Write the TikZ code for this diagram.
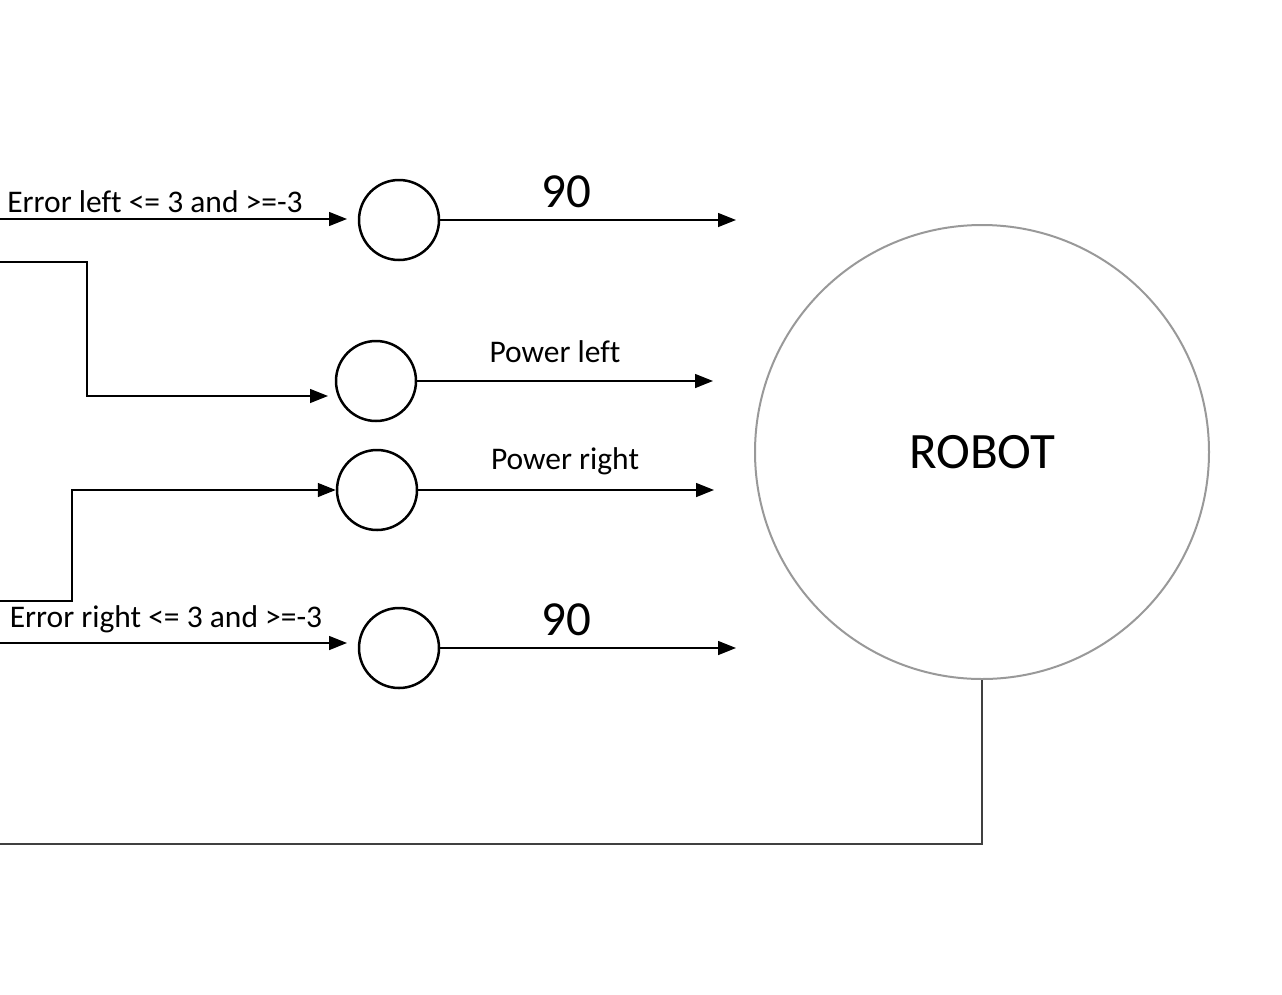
\documentclass[tikz,border=0pt]{standalone}
\usepackage{fontspec}
\setmainfont{Carlito}[Ligatures=CommonOff]
\usetikzlibrary{arrows.meta}
\begin{document}
\begin{tikzpicture}[x=1pt,y=-1pt,
  sumnode/.style={circle,draw=black,line width=2.5pt,minimum size=80pt,inner sep=0pt},
  robotnode/.style={circle,draw=black!40,line width=2pt,minimum size=454pt,inner sep=0pt,font=\fontsize{51}{60}\selectfont},
  wire/.style={draw=black,line width=1.4pt},
  arr/.style={wire,-{Triangle[length=18pt,width=14pt]}},
  lbl/.style={font=\fontsize{31.5}{36}\selectfont,inner sep=0pt},
  biglbl/.style={font=\fontsize{49}{58}\selectfont,inner sep=0pt}]
\useasboundingbox (0,0) rectangle (1282,994);
% nodes
\node[sumnode] (c1) at (399,220) {};
\node[sumnode] (c2) at (376,381) {};
\node[sumnode] (c3) at (377,490) {};
\node[sumnode] (c4) at (399,648) {};
\node[robotnode] (robot) at (982,452) {\raisebox{-3pt}{ROBOT}};
% free ends
\coordinate (in1) at (0,219);
\coordinate (in1e) at (347,219);
\coordinate (in2) at (0,262);
\coordinate (in2e) at (328,396);
\coordinate (in3) at (0,601);
\coordinate (in4) at (0,643);
\coordinate (in4e) at (347,643);
\coordinate (o1) at (736,220);
\coordinate (o2) at (713,381);
\coordinate (o3) at (714,490);
\coordinate (o4) at (736,648);
\coordinate (fb) at (0,844);
% inputs
\draw[arr] (in1) -- (in1e);
\draw[arr] (in2) -| (87,396) -- (in2e);
\draw[arr] (in3) -| (72,490) -- (c3.west);
\draw[arr] (in4) -- (in4e);
% outputs
\draw[arr] (c1.east) -- (o1);
\draw[arr] (c2.east) -- (o2);
\draw[arr] (c3.east) -- (o3);
\draw[arr] (c4.east) -- (o4);
% feedback
\draw[wire,draw=black!75] (robot.south) |- (fb);
% labels
\node[lbl] (l1) at (155,202) {Error left <= 3 and >=-3};
\node[lbl] (l2) at (555,352) {Power left};
\node[lbl] (l3) at (565,461) {Power right};
\node[lbl] (l4) at (166,619) {Error right <= 3 and >=-3};
\node[biglbl] (n1) at (566,192) {90};
\node[biglbl] (n2) at (566,620) {90};
\end{tikzpicture}
\end{document}
